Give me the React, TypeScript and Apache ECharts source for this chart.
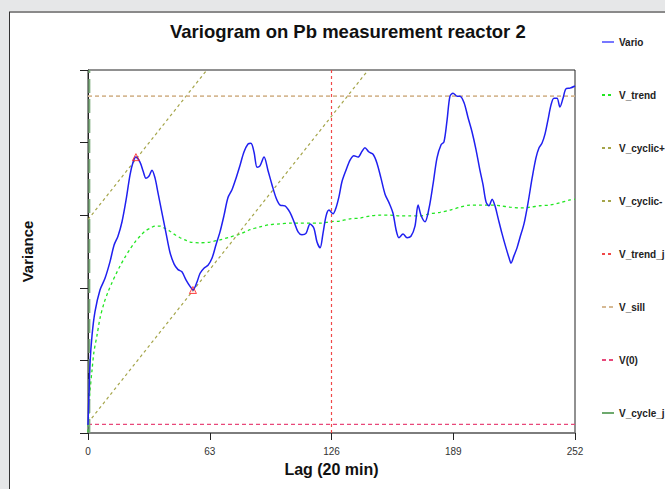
import React, { useEffect, useRef } from "react";
import * as echarts from "echarts";

const varioPoints: [number, number][] = [
  [0, 0.11], [0.5, 0.52], [1, 0.94], [2.1, 1.35], [3.6, 1.67], [6.2, 1.97], [8.8, 2.13],
  [11.4, 2.36], [13.5, 2.59], [15.5, 2.71], [17.6, 2.91], [19.7, 3.21], [21.7, 3.55],
  [23.3, 3.73], [24.8, 3.8], [26.9, 3.73], [28.5, 3.61], [30, 3.51], [31.6, 3.54],
  [33.1, 3.62], [34.7, 3.51], [36.2, 3.31], [38.3, 3.03], [40.4, 2.75], [42.4, 2.49],
  [44.5, 2.33], [46.6, 2.25], [48.6, 2.22], [50.7, 2.11], [52.8, 2.02], [54.3, 1.97],
  [56.4, 2.08], [58, 2.2], [60, 2.27], [62.1, 2.31], [64.2, 2.41], [66.2, 2.59],
  [68.3, 2.77], [70.4, 3.0], [72.4, 3.24], [74.5, 3.35], [76.6, 3.51], [78.7, 3.69],
  [80.7, 3.87], [82.8, 3.98], [84.3, 3.99], [85.9, 3.87], [87.5, 3.66], [89, 3.68],
  [91.1, 3.8], [93.1, 3.62], [95.2, 3.42], [97.3, 3.24], [99.4, 3.14], [101.9, 3.13],
  [104.5, 3.04], [106.6, 2.91], [108.7, 2.77], [110.7, 2.73], [112.8, 2.75], [114.9, 2.88],
  [116.9, 2.82], [118.5, 2.63], [120.1, 2.55], [121.6, 2.75], [123.2, 2.99], [124.7, 3.07],
  [126.8, 3.02], [128.3, 3.1], [129.9, 3.26], [131.4, 3.46], [133.5, 3.62], [135.6, 3.76],
  [137.6, 3.82], [139.7, 3.8], [141.8, 3.88], [143.3, 3.93], [145.4, 3.87], [147.5, 3.84],
  [149.5, 3.72], [151.6, 3.51], [153.7, 3.29], [155.8, 3.17], [157.8, 3.03], [159.4, 2.8],
  [160.9, 2.69], [163, 2.74], [165.1, 2.69], [167.1, 2.71], [169.2, 2.85], [170.8, 3.14],
  [172.3, 3.0], [174.4, 2.91], [176.5, 3.1], [178.5, 3.42], [180.6, 3.79], [182.7, 3.97],
  [184.2, 4.01], [185.8, 4.31], [187.3, 4.64], [188.9, 4.68], [190.9, 4.64], [192.5, 4.64],
  [194.6, 4.55], [196.6, 4.35], [198.7, 4.15], [200.8, 3.9], [202.8, 3.62], [204.4, 3.42],
  [206, 3.18], [207.5, 3.13], [209.1, 3.22], [210.6, 3.13], [212.2, 2.96], [214.2, 2.75],
  [216.3, 2.55], [217.9, 2.41], [218.9, 2.34], [220.4, 2.44], [222, 2.55], [223.5, 2.69],
  [225.6, 2.88], [227.7, 3.17], [229.8, 3.51], [231.8, 3.79], [233.4, 3.93], [234.9, 3.99],
  [236.5, 4.12], [238, 4.31], [239.6, 4.52], [241.1, 4.61], [242.7, 4.61], [244.2, 4.49],
  [245.8, 4.61], [247.3, 4.74], [249.4, 4.75], [252, 4.78],
];

// Trend model curve
const trendPoints: [number, number][] = [
  [0, 0.01], [0.5, 0.32], [1, 0.56], [2.1, 0.87], [3.1, 1.12], [4.7, 1.35], [6.2, 1.58],
  [8.3, 1.79], [10.3, 1.94], [12.4, 2.07], [14.5, 2.19], [16.6, 2.3], [19.1, 2.42],
  [21.7, 2.53], [24.3, 2.63], [26.9, 2.71], [29.5, 2.78], [32.1, 2.82], [34.7, 2.85],
  [37.3, 2.85], [39.8, 2.82], [42.4, 2.78], [45, 2.73], [47.6, 2.69], [50.2, 2.66],
  [52.8, 2.63], [58, 2.62], [63.1, 2.63], [68.3, 2.66], [73.5, 2.7], [78.7, 2.74],
  [83.8, 2.8], [89, 2.84], [94.2, 2.87], [99.4, 2.88], [104.5, 2.89], [109.7, 2.89],
  [114.9, 2.89], [120.1, 2.89], [125.2, 2.91], [130.4, 2.92], [135.6, 2.95], [140.8, 2.96],
  [146, 2.99], [151.1, 3.0], [156.3, 3.0], [161.5, 2.99], [166.6, 2.99], [171.8, 2.99],
  [177, 3.02], [182.1, 3.04], [187.3, 3.07], [192.5, 3.11], [197.7, 3.14], [202.8, 3.14],
  [208, 3.14], [213.2, 3.13], [218.4, 3.11], [223.5, 3.1], [228.7, 3.11], [233.9, 3.13],
  [239.1, 3.14], [244.2, 3.17], [249.4, 3.21], [252, 3.22],
];

const cyclicPlus: [number, number][] = [[0, 2.94], [61.5, 5]];
const cyclicMinus: [number, number][] = [[0, 0.14], [145, 5]];
const trendJ: [number, number][] = [[126, 0], [126, 5]];
const sill: [number, number][] = [[0, 4.64], [252, 4.64]];
const v0: [number, number][] = [[0, 0.12], [252, 0.12]];
const cycleJ: [number, number][] = [[0.7, 0], [0.7, 5]];
const extrema: [number, number][] = [[24.8, 3.8], [54.3, 1.97]];

const xTicks = [0, 63, 126, 189, 252];

const FONT = "'Liberation Sans', Arial, sans-serif";

export default function App() {
  const ref = useRef<HTMLDivElement>(null);
  useEffect(() => {
    if (!ref.current) return;
    const chart = echarts.init(ref.current, null, { renderer: "svg" });
    const dashed = (color: string, width = 1.3, type: any = [3, 3]) => ({
      type: "line",
      symbol: "none",
      showSymbol: false,
      lineStyle: { color, width, type },
      itemStyle: { color },
      z: 2,
    });
    chart.setOption({
      animation: false,
      backgroundColor: "#e6e7e8",
      title: {
        text: "Variogram on Pb measurement reactor 2",
        left: 170,
        top: 22,
        padding: 0,
        textStyle: { fontFamily: FONT, fontSize: 18.5, fontWeight: "bold", color: "#111" },
      },
      graphic: [
        { type: "rect", z: -10, shape: { x: 9, y: 12, width: 656, height: 477 }, style: { fill: "#ffffff" } },
        { type: "line", z: -9, shape: { x1: 9, y1: 12, x2: 665, y2: 12 }, style: { stroke: "#8a8a8a", lineWidth: 2 } },
        { type: "line", z: -9, shape: { x1: 9.5, y1: 12, x2: 9.5, y2: 489 }, style: { stroke: "#333", lineWidth: 1 } },
      ],
      legend: {
        orient: "vertical",
        left: 601,
        top: 37,
        padding: 0,
        itemWidth: 12,
        itemHeight: 12,
        itemGap: 43,
        itemStyle: { opacity: 0 },
        textStyle: { fontFamily: FONT, fontSize: 10, fontWeight: "bold", color: "#222" },
        data: [
          { name: "Vario", lineStyle: { color: "#7777ff", width: 2 } },
          "V_trend",
          "V_cyclic+",
          "V_cyclic-",
          "V_trend_j",
          "V_sill",
          "V(0)",
          { name: "V_cycle_j", lineStyle: { color: "#3c8c3c", type: "solid", width: 1.5 }, itemStyle: { opacity: 0 } },
        ],
      },
      grid: {
        left: 88,
        right: 90,
        top: 70,
        bottom: 56,
        show: true,
        borderColor: "#222",
        borderWidth: 1,
      },
      xAxis: {
        type: "value",
        min: xTicks[0],
        max: xTicks[xTicks.length - 1],
        interval: 63,
        name: "Lag (20 min)",
        nameLocation: "middle",
        nameGap: 28,
        nameTextStyle: { fontFamily: FONT, fontSize: 16, fontWeight: "bold", color: "#111" },
        axisLine: { show: true, lineStyle: { color: "#777", width: 1.5 } },
        axisTick: { show: true, length: 7, lineStyle: { color: "#222" } },
        axisLabel: { fontFamily: FONT, fontSize: 10, color: "#333", margin: 13 },
        splitLine: { show: false },
      },
      yAxis: {
        type: "value",
        min: 0,
        max: 5,
        interval: 1,
        name: "Variance",
        nameLocation: "middle",
        nameGap: 53,
        nameTextStyle: { fontFamily: FONT, fontSize: 15, fontWeight: "bold", color: "#111" },
        axisLine: { show: true, lineStyle: { color: "#222", width: 1 } },
        axisTick: { show: true, length: 8, lineStyle: { color: "#222" } },
        axisLabel: { show: false },
        splitLine: { show: false },
      },
      series: [
        {
          name: "Vario",
          type: "line",
          symbol: "none",
          smooth: 0.3,
          data: varioPoints,
          lineStyle: { color: "#2020f0", width: 1.5 },
          itemStyle: { color: "#2020f0" },
          z: 5,
        },
        { name: "V_trend", data: trendPoints, smooth: 0.3, ...dashed("#22e622", 1.3, [3, 3]) },
        { name: "V_cyclic+", data: cyclicPlus, ...dashed("#a5a54a", 1.2, [3, 3]) },
        { name: "V_cyclic-", data: cyclicMinus, ...dashed("#a5a54a", 1.2, [3, 3]) },
        { name: "V_trend_j", data: trendJ, ...dashed("#f04848", 1.2, [3, 3]) },
        { name: "V_sill", data: sill, ...dashed("#d6b994", 1.6, [4, 3]) },
        { name: "V(0)", data: v0, ...dashed("#e8487a", 1.3, [4, 3]) },
        { name: "V_cycle_j", data: cycleJ, ...dashed("#7aaa7a", 2, [14, 6]) },
        {
          name: "extrema",
          type: "scatter",
          data: extrema,
          symbol: "triangle",
          symbolSize: 7,
          itemStyle: { color: "rgba(255,0,0,0.1)", borderColor: "#ff2020", borderWidth: 1 },
          z: 6,
        },
      ],
    });
    return () => chart.dispose();
  }, []);
  return (
    <div
      ref={ref}
      style={{ position: "fixed", left: 0, top: 0, width: 665, height: 489 }}
    />
  );
}
